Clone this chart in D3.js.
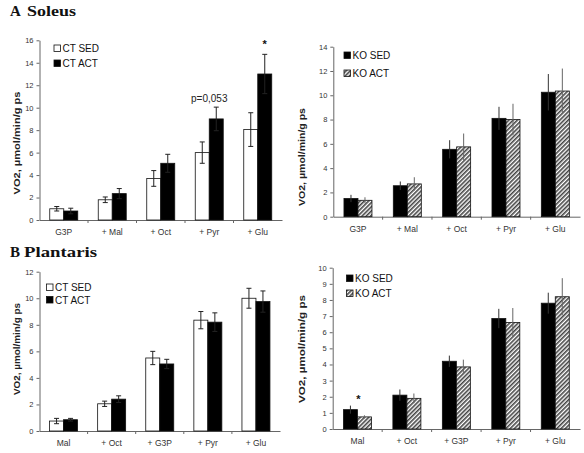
<!DOCTYPE html>
<html><head><meta charset="utf-8">
<script src="https://cdn.jsdelivr.net/npm/d3@7"></script>
<style>body{margin:0;background:#fff;overflow:hidden}svg{display:block}</style>
</head><body>
<script>
// ---- DATA ----
const catsA = ["G3P", "+ Mal", "+ Oct", "+ Pyr", "+ Glu"];
const catsB = ["Mal", "+ Oct", "+ G3P", "+ Pyr", "+ Glu"];

const soleusCtSed = [1.0, 1.8, 3.7, 6.0, 8.05];
const soleusCtSedErr = [0.2, 0.25, 0.7, 0.95, 1.5];
const soleusCtAct = [0.8, 2.35, 5.05, 9.0, 13.0];
const soleusCtActErr = [0.25, 0.45, 0.8, 1.05, 1.75];

const soleusKoSed = [1.5, 2.55, 5.55, 8.1, 10.25];
const soleusKoSedErr = [0.3, 0.35, 0.75, 0.95, 1.5];
const soleusKoAct = [1.35, 2.7, 5.75, 8.0, 10.35];
const soleusKoActErr = [0.25, 0.55, 1.1, 1.3, 1.85];

const plantCtSed = [0.75, 2.05, 5.5, 8.35, 10.0];
const plantCtSedErr = [0.2, 0.2, 0.5, 0.65, 0.75];
const plantCtAct = [0.85, 2.4, 5.05, 8.2, 9.75];
const plantCtActErr = [0.1, 0.25, 0.35, 0.7, 0.8];

const plantKoSed = [1.2, 2.1, 4.2, 6.85, 7.8];
const plantKoSedErr = [0.25, 0.35, 0.35, 0.6, 0.65];
const plantKoAct = [0.75, 1.9, 3.85, 6.6, 8.2];
const plantKoActErr = [0.1, 0.3, 0.45, 0.9, 1.15];

const ticksA1 = [0, 2, 4, 6, 8, 10, 12, 14, 16];
const ticksA2 = [0, 2, 4, 6, 8, 10, 12, 14];
const ticksB1 = [0, 2, 4, 6, 8, 10, 12];
const ticksB2 = [0, 1, 2, 3, 4, 5, 6, 7, 8, 9, 10];

const yLabel = "VO2, µmol/min/g ps";

// ---- DRAW ----
const svg = d3.select("body").append("svg").attr("width", 584).attr("height", 453);
const defs = svg.append("defs");
const pat = defs.append("pattern").attr("id", "hatch").attr("patternUnits", "userSpaceOnUse")
  .attr("width", 3).attr("height", 3).attr("patternTransform", "rotate(45)");
pat.append("rect").attr("width", 3).attr("height", 3).attr("fill", "#fff");
pat.append("rect").attr("width", 1.6).attr("height", 3).attr("fill", "#444");

const sans = "Liberation Sans, Arial, sans-serif";
const serif = "Liberation Serif, Times New Roman, serif";

function title(letter, word, y, x2, len) {
  svg.append("text").attr("x", 10).attr("y", y).attr("font-family", serif).attr("font-weight", "bold")
    .attr("font-size", 15).attr("fill", "#111").text(letter);
  svg.append("text").attr("x", x2).attr("y", y).attr("font-family", serif).attr("font-weight", "bold")
    .attr("font-size", 15).attr("fill", "#111").attr("textLength", len).attr("lengthAdjust", "spacingAndGlyphs")
    .text(word);
}
title("A", "Soleus", 16, 27, 49);
title("B", "Plantaris", 257, 24, 73);

function panel(o) {
  const g = svg.append("g");
  const x = d3.scaleBand().domain(o.cats).range([o.x0, o.x1]);
  const y = d3.scaleLinear().domain([0, o.ymax]).range([o.yb, o.yt]);
  const bw = o.bw;
  const ya = g.append("g").attr("transform", `translate(${o.x0},0)`)
    .call(d3.axisLeft(y).tickValues(o.ticks).tickSize(3).tickSizeOuter(0).tickPadding(3));
  ya.select(".domain").attr("stroke", "#666");
  ya.selectAll(".tick line").attr("stroke", "#666");
  ya.selectAll("text").attr("font-family", sans).attr("font-size", 7.5).attr("fill", "#333");
  const xa = g.append("g").attr("transform", `translate(0,${o.yb})`)
    .call(d3.axisBottom(x).tickSize(0).tickPadding(9));
  xa.select(".domain").attr("stroke", "#666");
  xa.selectAll("text").attr("font-family", sans).attr("font-size", 8.5).attr("fill", "#333");
  g.selectAll(".sep").data(d3.range(1, o.cats.length)).join("line")
    .attr("x1", i => o.x0 + i * x.bandwidth()).attr("x2", i => o.x0 + i * x.bandwidth())
    .attr("y1", o.yb).attr("y2", o.yb + 3).attr("stroke", "#666");
  const series = [
    {vals: o.s1, err: o.e1, fill: o.f1, off: -bw, errColor: o.ec1},
    {vals: o.s2, err: o.e2, fill: o.f2, off: 0, errColor: o.ec2}
  ];
  series.forEach(s => {
    g.selectAll(null).data(o.cats).join("rect")
      .attr("x", c => x(c) + x.bandwidth() / 2 + s.off)
      .attr("y", (c, i) => y(s.vals[i]))
      .attr("width", bw).attr("height", (c, i) => y(0) - y(s.vals[i]))
      .attr("fill", s.fill).attr("stroke", "#111").attr("stroke-width", 0.8);
  });
  series.forEach(s => {
    const cx = c => x(c) + x.bandwidth() / 2 + s.off + bw / 2;
    g.selectAll(null).data(o.cats).join("line")
      .attr("x1", cx).attr("x2", cx)
      .attr("y1", (c, i) => y(s.vals[i] + s.err[i])).attr("y2", (c, i) => y(s.vals[i] - s.err[i]))
      .attr("stroke", s.errColor).attr("stroke-width", 1);
    if (o.caps) {
      [1, -1].forEach(sg => {
        g.selectAll(null).data(o.cats).join("line")
          .attr("x1", c => cx(c) - 2.5).attr("x2", c => cx(c) + 2.5)
          .attr("y1", (c, i) => y(s.vals[i] + sg * s.err[i])).attr("y2", (c, i) => y(s.vals[i] + sg * s.err[i]))
          .attr("stroke", s.errColor).attr("stroke-width", 1);
      });
    }
  });
  g.append("text").attr("transform", `translate(${o.ylx},${o.ylc}) rotate(-90)`)
    .attr("text-anchor", "middle").attr("font-family", sans).attr("font-weight", "bold")
    .attr("font-size", 8.5).attr("fill", "#222").attr("textLength", o.yll).attr("lengthAdjust", "spacingAndGlyphs")
    .text(yLabel);
  o.leg.forEach((l, i) => {
    const ly = o.legY + i * o.legDy;
    g.append("rect").attr("x", o.legX).attr("y", ly - 7).attr("width", 6.5).attr("height", 6.5)
      .attr("fill", l.fill).attr("stroke", "#111").attr("stroke-width", 0.8);
    g.append("text").attr("x", o.legX + 8.5).attr("y", ly).attr("font-family", sans)
      .attr("font-size", 10).attr("fill", "#111").text(l.name);
  });
  return {g, x, y};
}

const pA1 = panel({cats: catsA, x0: 39.5, x1: 282, yb: 220, yt: 40.3, ymax: 16, ticks: ticksA1, bw: 14,
  s1: soleusCtSed, e1: soleusCtSedErr, f1: "#fff", ec1: "#222",
  s2: soleusCtAct, e2: soleusCtActErr, f2: "#000", ec2: "#222", caps: true, ylx: 20, ylc: 143, yll: 103,
  leg: [{name: "CT SED", fill: "#fff"}, {name: "CT ACT", fill: "#000"}], legX: 54, legY: 52, legDy: 15});
pA1.g.append("text").attr("x", pA1.x("+ Pyr") + pA1.x.bandwidth() / 2).attr("y", 102).attr("text-anchor", "middle")
  .attr("font-family", sans).attr("font-size", 10).attr("fill", "#222").text("p=0,053");
pA1.g.append("text").attr("x", pA1.x("+ Glu") + pA1.x.bandwidth() / 2 + 7).attr("y", 48).attr("text-anchor", "middle")
  .attr("font-family", sans).attr("font-weight", "bold").attr("font-size", 11).attr("fill", "#111").text("*");

panel({cats: catsA, x0: 333.3, x1: 580, yb: 216.7, yt: 46.7, ymax: 14, ticks: ticksA2, bw: 14,
  s1: soleusKoSed, e1: soleusKoSedErr, f1: "#000", ec1: "#333",
  s2: soleusKoAct, e2: soleusKoActErr, f2: "url(#hatch)", ec2: "#666", caps: false, ylx: 305, ylc: 157, yll: 98,
  leg: [{name: "KO SED", fill: "#000"}, {name: "KO ACT", fill: "url(#hatch)"}], legX: 344, legY: 59, legDy: 18});

panel({cats: catsB, x0: 39.5, x1: 280, yb: 431, yt: 271.7, ymax: 12, ticks: ticksB1, bw: 14,
  s1: plantCtSed, e1: plantCtSedErr, f1: "#fff", ec1: "#222",
  s2: plantCtAct, e2: plantCtActErr, f2: "#000", ec2: "#222", caps: true, ylx: 20, ylc: 349, yll: 92,
  leg: [{name: "CT SED", fill: "#fff"}, {name: "CT ACT", fill: "#000"}], legX: 46.5, legY: 291, legDy: 12.5});

const pB2 = panel({cats: catsB, x0: 332.7, x1: 580, yb: 429, yt: 267.7, ymax: 10, ticks: ticksB2, bw: 14,
  s1: plantKoSed, e1: plantKoSedErr, f1: "#000", ec1: "#333",
  s2: plantKoAct, e2: plantKoActErr, f2: "url(#hatch)", ec2: "#666", caps: false, ylx: 305, ylc: 349, yll: 108,
  leg: [{name: "KO SED", fill: "#000"}, {name: "KO ACT", fill: "url(#hatch)"}], legX: 346.5, legY: 282, legDy: 15});
pB2.g.append("text").attr("x", pB2.x("Mal") + pB2.x.bandwidth() / 2 + 1).attr("y", 403).attr("text-anchor", "middle")
  .attr("font-family", sans).attr("font-weight", "bold").attr("font-size", 11).attr("fill", "#111").text("*");
</script>
</body></html>
